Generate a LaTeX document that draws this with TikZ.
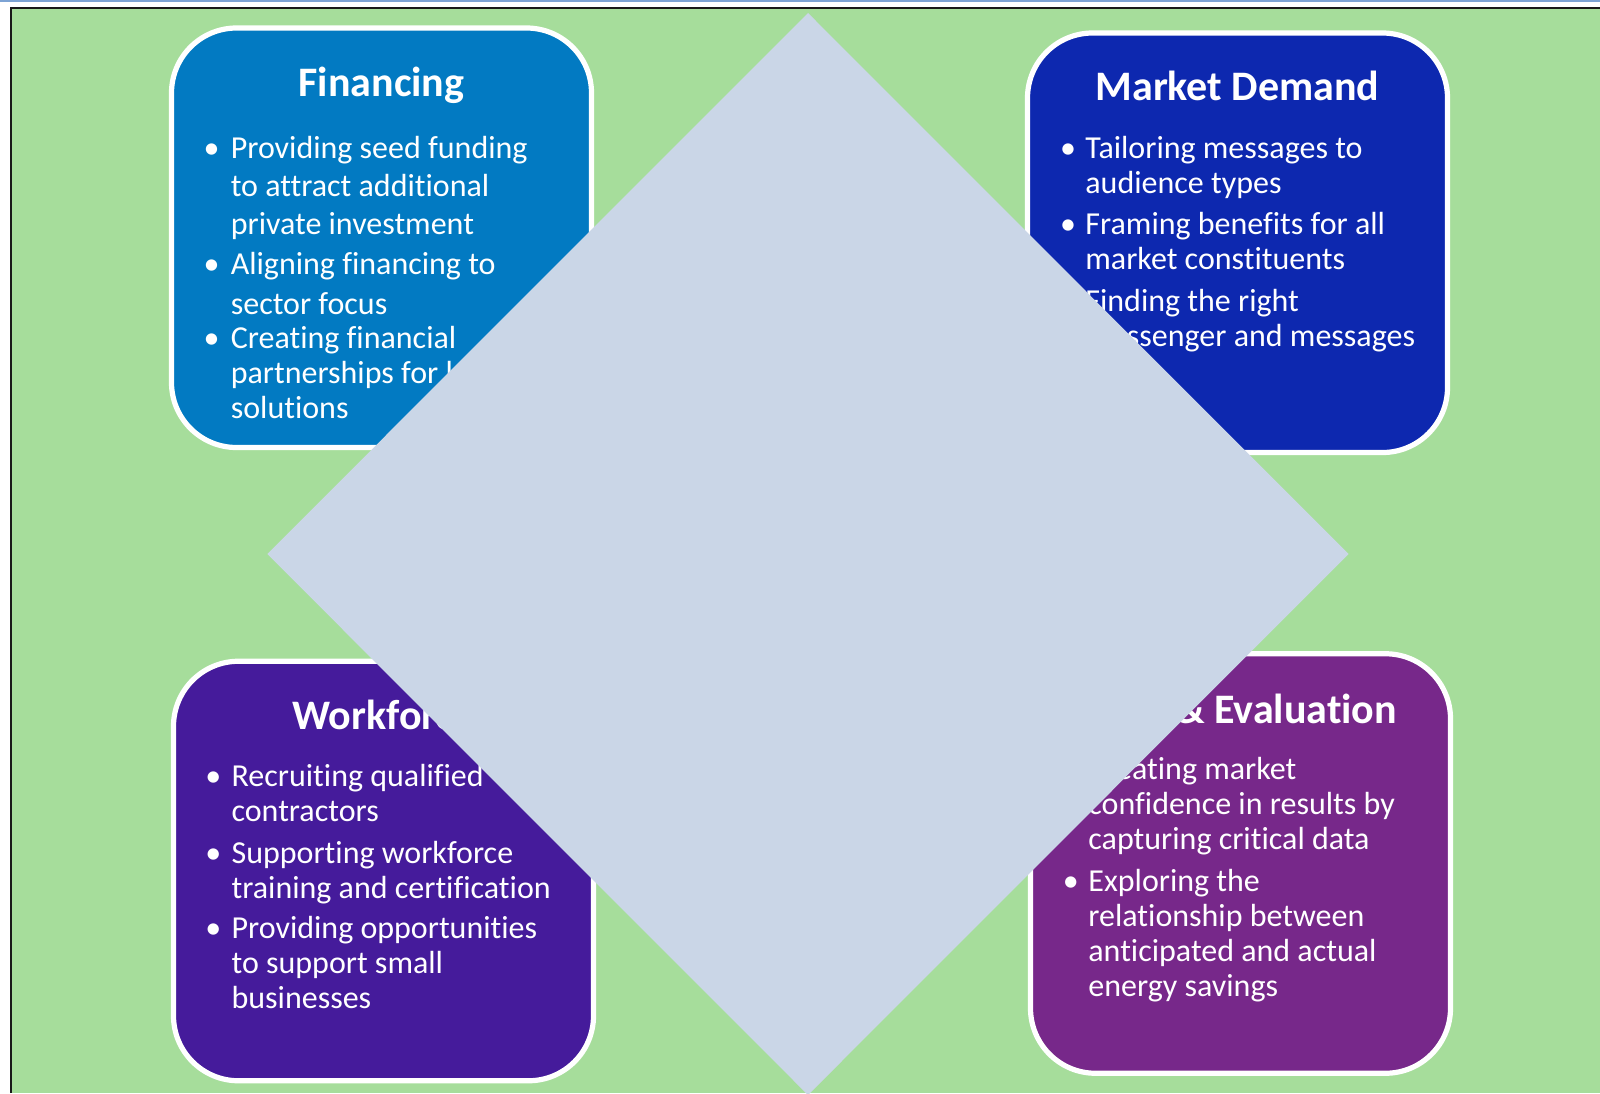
\documentclass[tikz,border=0pt]{standalone}
\usepackage{fontspec}
\setmainfont{Carlito}[Ligatures={NoCommon}]
\definecolor{bggreen}{RGB}{166,221,155}
\definecolor{diamondc}{RGB}{202,214,231}
\definecolor{finblue}{RGB}{2,122,194}
\definecolor{mktblue}{RGB}{13,40,175}
\definecolor{wfpurple}{RGB}{69,27,155}
\definecolor{evpurple}{RGB}{119,40,138}
\definecolor{topline}{RGB}{125,163,212}
\definecolor{framec}{RGB}{25,25,25}
\begin{document}
\begin{tikzpicture}[x=0.5pt,y=-0.5pt,
  card/.style={draw=white, line width=2.6pt, rounded corners=32.5pt,
    minimum width=210pt, minimum height=209.75pt, inner sep=0pt},
  ttl/.style={text=white, font=\fontsize{21}{25}\selectfont\bfseries,
    anchor=base, inner sep=0pt},
  body/.style={text=white, font=\fontsize{16}{19}\selectfont,
    anchor=base west, inner sep=0pt},
  bul/.style={text=white, font=\fontsize{16}{19}\selectfont,
    anchor=base, inner sep=0pt}]
\useasboundingbox (0,0) rectangle (1600,1093);

% page background and frame
\fill[white] (0,0) rectangle (1600,1093);
\fill[topline] (0,0) rectangle (1600,1.6);
\fill[bggreen] (11,8) rectangle (1600,1093);
\draw[framec, line width=1.1pt] (11,1093) -- (11,8) -- (1600,8);

% four cards
\node[card, fill=finblue]  (fin) at (381.5,237.75) {};
\node[card, fill=mktblue]  (mkt) at (1237.5,242.75) {};
\node[card, fill=wfpurple] (wf)  at (383.5,871) {};
\node[card, fill=evpurple] (ev)  at (1240.5,863.5) {};

% titles
\node[ttl] (fin-t) at (381.5,96.5) {Financing};
\node[ttl] (mkt-t) at (1237.5,100.5) {Market Demand};
\node[ttl] (wf-t)  at (383.5,729.8) {Workforce};
\node[ttl] (ev-t)  at (1240.5,723.2) {Data \& Evaluation};

% bullet lists: baseline / starts-item flag / text
\foreach \ya/\bu/\tx [count=\i] in {
  158/1/Providing seed funding,
  196.3/0/to attract additional,
  234.6/0/private investment,
  274.6/1/Aligning financing to,
  314/0/sector focus,
  348/1/Creating financial,
  383/0/partnerships for local,
  418/0/solutions}{
  \node[body] (fin-\i) at (230.4,\ya) {\tx};
  \ifnum\bu=1 \node[bul] (fin-b\i) at (211.6,\ya) {•};\fi
}
\foreach \ya/\bu/\tx [count=\i] in {
  158/1/Tailoring messages to,
  193/0/audience types,
  234/1/Framing benefits for all,
  269.6/0/market constituents,
  311.3/1/Finding the right,
  346.3/0/messenger and messages}{
  \node[body] (mkt-\i) at (1085,\ya) {\tx};
  \ifnum\bu=1 \node[bul] (mkt-b\i) at (1068.1,\ya) {•};\fi
}
\foreach \ya/\bu/\tx [count=\i] in {
  786.3/1/Recruiting qualified,
  821.3/0/contractors,
  863/1/Supporting workforce,
  898/0/training and certification,
  938/1/Providing opportunities,
  973/0/to support small,
  1008/0/businesses}{
  \node[body] (wf-\i) at (231.2,\ya) {\tx};
  \ifnum\bu=1 \node[bul] (wf-b\i) at (213.4,\ya) {•};\fi
}
\foreach \ya/\bu/\tx [count=\i] in {
  779.6/1/Creating market,
  814.6/0/confidence in results by,
  849.6/0/capturing critical data,
  891.3/1/Exploring the,
  926.3/0/relationship between,
  961.3/0/anticipated and actual,
  996.3/0/energy savings}{
  \node[body] (ev-\i) at (1088,\ya) {\tx};
  \ifnum\bu=1 \node[bul] (ev-b\i) at (1070.8,\ya) {•};\fi
}

% central diamond laid over the cards
\fill[diamondc] (808,13) -- (1348.5,554) -- (808,1095) -- (267.3,554) -- cycle;
\end{tikzpicture}
\end{document}
